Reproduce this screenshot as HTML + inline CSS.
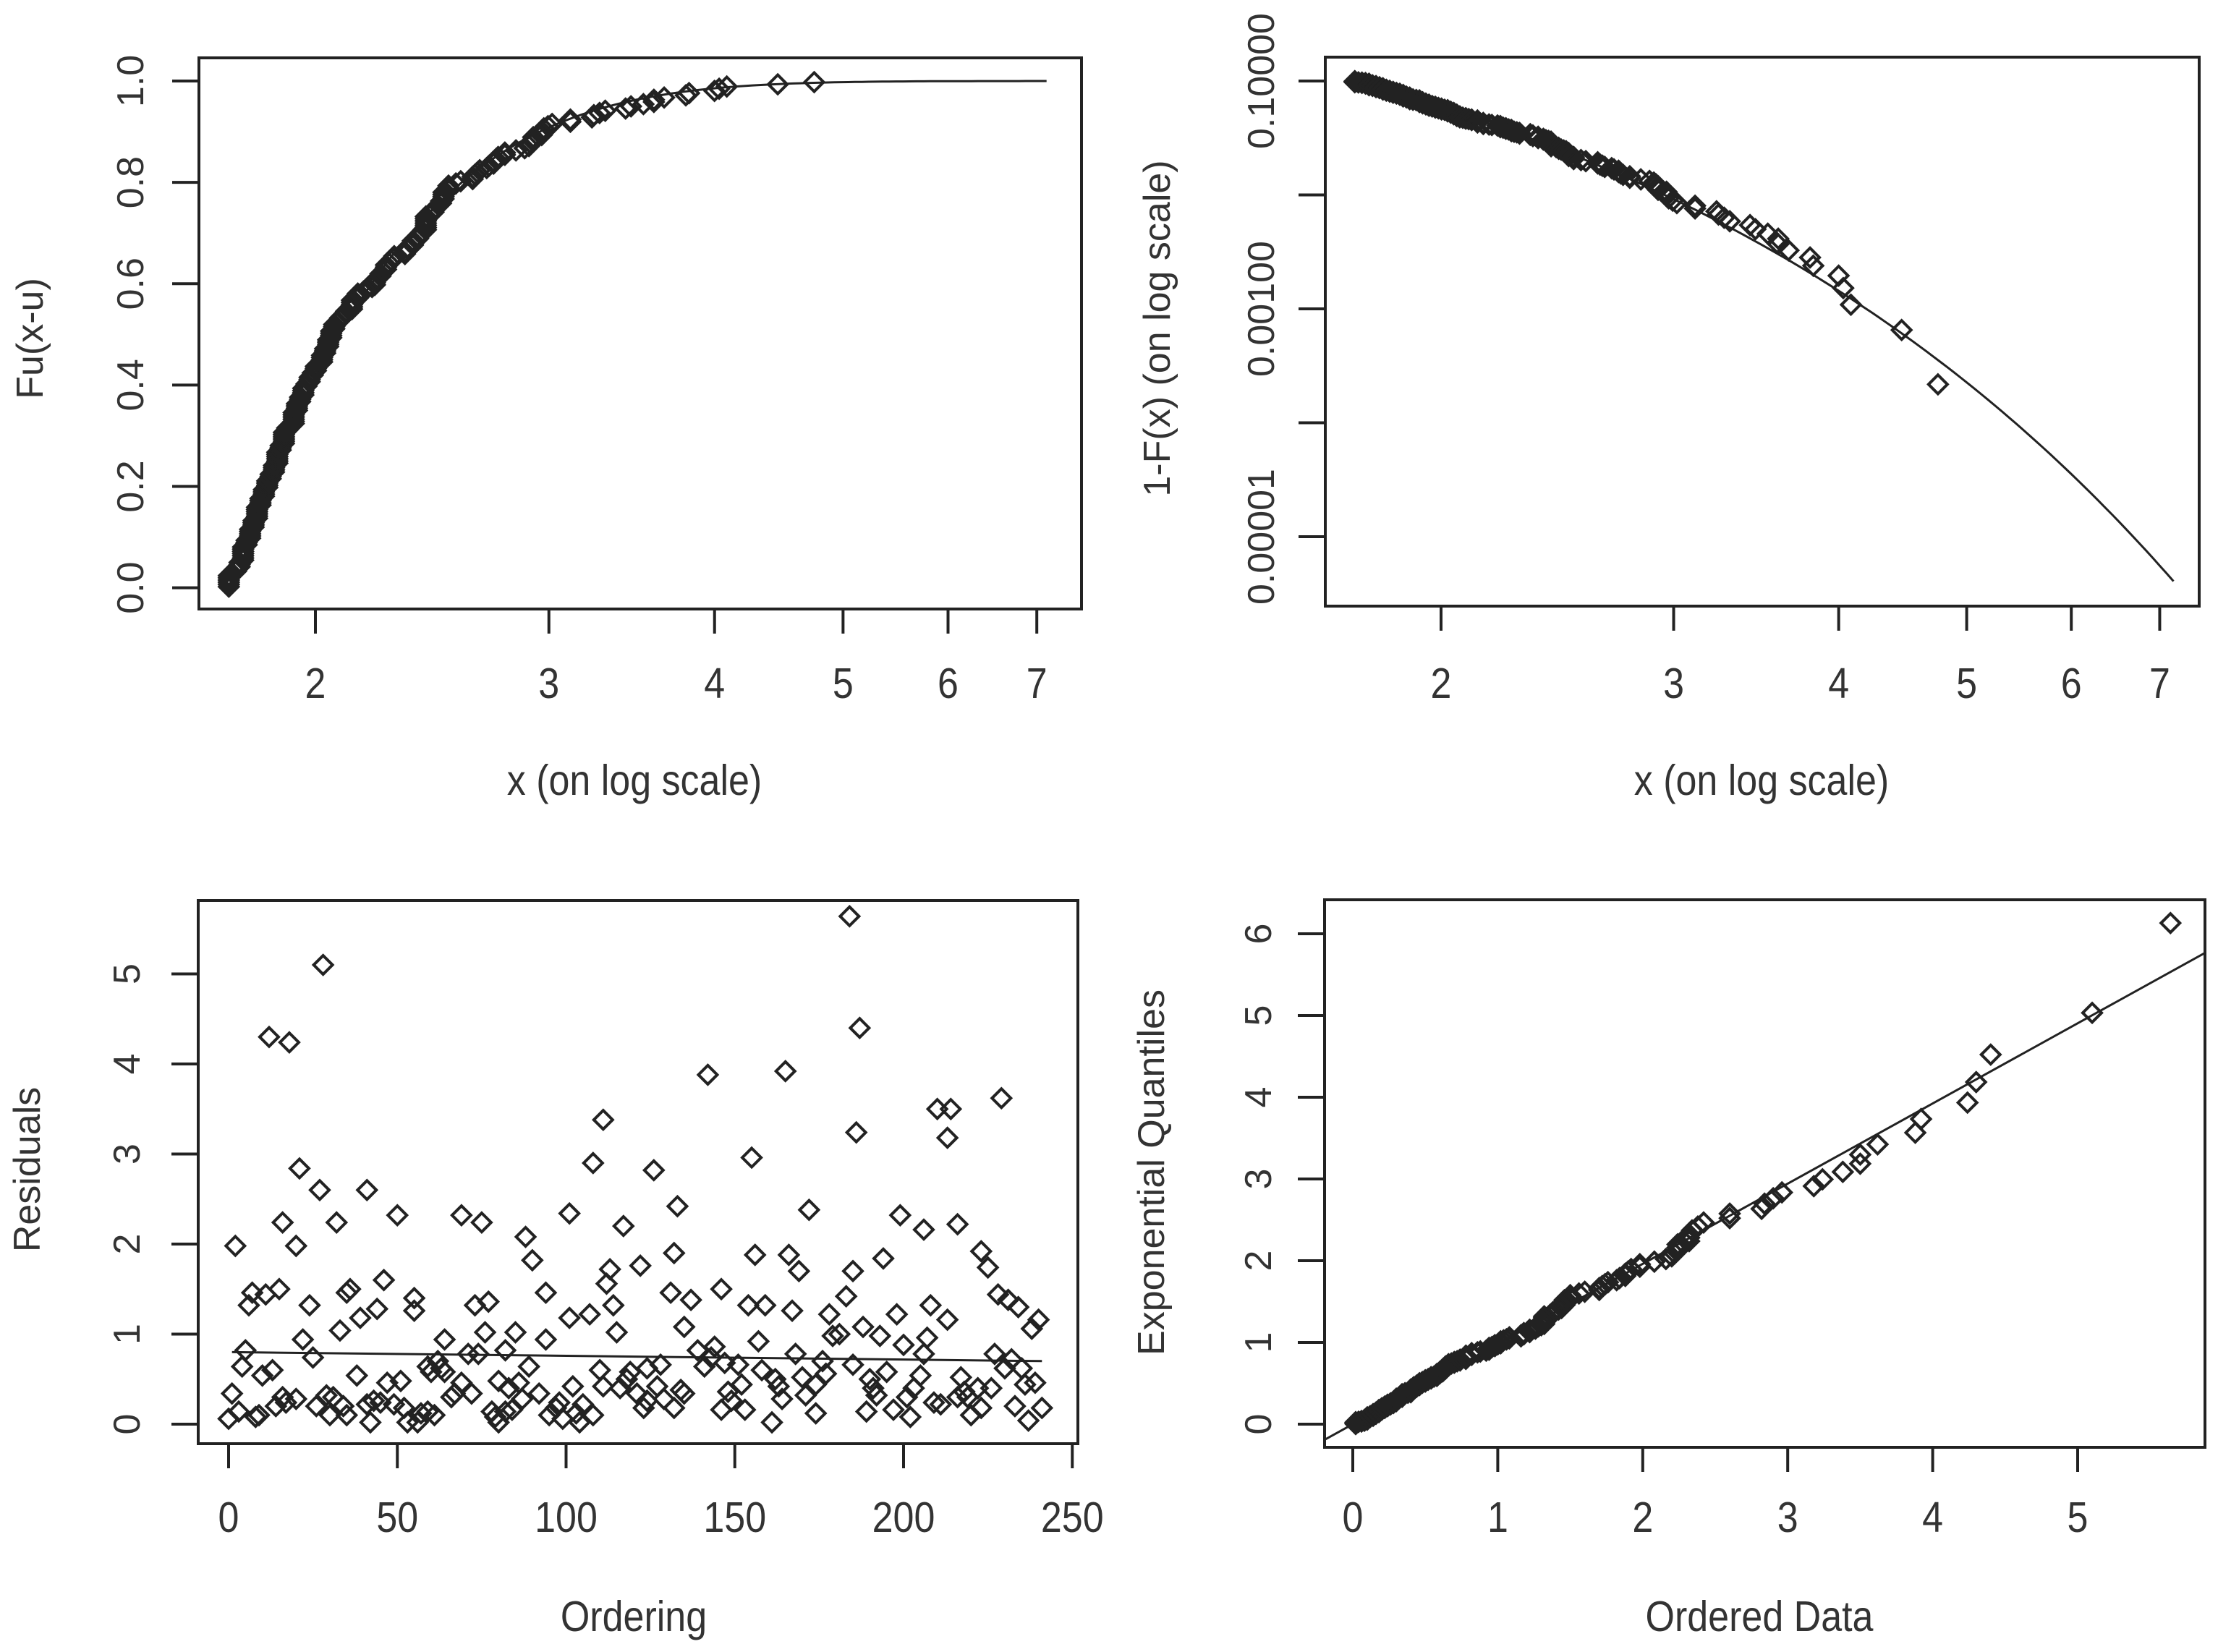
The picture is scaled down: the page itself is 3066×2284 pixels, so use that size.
<!DOCTYPE html>
<html><head><meta charset="utf-8">
<style>
html,body{margin:0;padding:0;background:#fff;}
svg{display:block;}
text{font-family:"Liberation Sans",sans-serif;fill:#333;}
</style></head>
<body>
<svg id="fig" width="3066" height="2284" viewBox="0 0 3066 2284" xmlns="http://www.w3.org/2000/svg">
<rect x="0" y="0" width="3066" height="2284" fill="#fff"/>
<g id="p1"></g>
<g id="p2"></g>
<g id="p3"></g>
<g id="p4"></g>
</svg>
<script>
// ---- data ----
const ordering = [0,3,1,4,5,2,6,7,11,15,9,10,13,14,16,20,16,12,18,20,21,27,24,22,25,28,26,30,31,32,33,35,36,35,38,39,41,42,41,43,44,46,47,49,50,51,52,53,55,55,56,59,59,61,62,64,64,67,69,69,71,72,73,74,75,76,77,78,80,80,82,82,84,85,86,88,89,90,92,94,94,95,97,99,101,101,102,104,105,107,108,110,111,111,112,113,114,115,117,119,121,122,123,124,126,124,128,129,131,132,132,133,135,135,137,139,142,143,144,146,146,147,149,151,152,153,154,155,156,157,158,159,161,162,164,165,166,167,168,169,171,172,174,174,176,178,179,181,183,184,185,185,186,187,188,189,190,192,193,194,195,197,198,199,200,202,203,205,206,206,207,208,209,210,213,213,214,216,216,217,219,220,222,223,223,225,227,228,229,230,231,233,234,235,236,237,238,239,240,241,8,17,29,34,45,57,60,63,66,79,83,87,98,103,116,118,127,134,141,148,163,170,177,191,201,211,218,226,232,108];
const residuals = [0.06,0.14,0.34,0.64,0.82,1.98,1.32,1.46,1.44,1.5,0.1,0.54,0.6,0.2,0.3,0.28,2.24,4.3,4.24,1.98,2.84,2.6,1.32,0.94,0.74,5.1,0.2,0.1,0.3,2.24,1.04,1.46,1.5,0.1,0.54,1.18,2.6,0.02,0.22,0.26,1.28,1.6,0.46,0.22,2.32,0.48,0.18,0.02,1.4,1.26,0.02,0.14,0.64,0.1,0.7,0.94,0.58,0.34,2.32,0.46,0.78,0.34,1.32,0.78,2.24,1.02,1.36,0.14,0.02,0.48,0.14,0.82,0.16,1.02,0.46,2.08,0.64,1.82,0.34,0.94,1.46,0.1,0.18,0.06,1.18,2.34,0.42,0.02,0.22,1.22,2.9,0.6,3.38,0.42,1.56,1.72,1.32,1.02,2.2,0.58,0.34,1.76,0.18,0.62,2.82,0.26,0.66,0.28,1.46,1.9,0.18,2.42,0.34,1.08,1.38,0.82,3.88,0.74,0.86,0.16,1.5,0.68,0.26,0.66,0.44,0.16,1.32,2.96,1.88,0.92,0.6,1.32,0.02,0.5,0.28,3.92,1.88,1.26,0.78,1.7,0.32,2.38,0.12,0.44,0.7,1.22,0.98,1.0,1.42,5.64,0.66,1.7,3.24,4.4,1.08,0.14,0.5,0.32,0.98,1.84,0.58,0.16,1.22,2.32,0.88,0.08,0.4,0.54,0.78,2.16,0.96,1.32,0.24,3.5,1.16,3.18,3.5,0.3,2.22,0.52,0.3,0.1,0.4,1.92,0.18,1.74,0.78,1.44,3.62,0.62,1.38,0.2,1.3,0.62,0.44,0.04,1.06,0.46,1.16,0.18,0.08,0.24,0.32,0.2,0.24,0.12,0.58,0.62,0.3,0.08,0.4,0.28,0.24,0.12,0.4,0.5,0.42,0.38,0.64,0.36,0.42,0.52,0.56,0.4,0.3,0.22,0.36,0.4,0.72,0.1];
const thresholdU = 1.71;      // GPD threshold
const scaleSigma = 0.54;      // GPD scale
const tailProb = 0.1;         // exceedance probability
const residLineX = [1, 241];
const residLineY = [0.8, 0.7];
const qqSlope = [0.981];
const p1XTicks = [2,3,4,5,6,7];
const p1YTicks = [0,0.2,0.4,0.6,0.8,1.0];
const p1YLabels = ["0.0","0.2","0.4","0.6","0.8","1.0"];
const p2YTicks = [0.1,0.01,0.001,0.0001,0.00001];
const p2YLabels = ["0.10000","","0.00100","","0.00001"];
const p3XTicks = [0,50,100,150,200,250];
const p3YTicks = [0,1,2,3,4,5];
const p4XTicks = [0,1,2,3,4,5];
const p4YTicks = [0,1,2,3,4,5,6];

const NS = "http://www.w3.org/2000/svg";
function mk(parent, tag, attrs){const e=document.createElementNS(NS,tag);for(const k in attrs)e.setAttribute(k,attrs[k]);parent.appendChild(e);return e;}

// axis functions
const P1 = {l:275,r:1495,t:80,b:842, x:v=>436+796*Math.log(v/2), y:v=>812.6-700.6*v};
const P2 = {l:1832,r:3040,t:79,b:838, x:v=>1992+793*Math.log(v/2), y:v=>112-157.5*Math.log10(v/0.1)};
const P3 = {l:274,r:1490,t:1245,b:1996, x:v=>316+4.665*v, y:v=>1969-124.5*v};
const P4 = {l:1831,r:3048,t:1244,b:2001, x:v=>1870+200.4*v, y:v=>1969-113*v};

function frame(g, P, name){
  const r = mk(g,'rect',{x:P.l,y:P.t,width:P.r-P.l,height:P.b-P.t,fill:'none',stroke:'#222','stroke-width':4});
  
  
}
function xTicks(g,P,vals,labels,labY,name){
  vals.forEach((v,i)=>{
    const px=P.x(v);
    const t=mk(g,'line',{x1:px,x2:px,y1:P.b,y2:P.b+34,stroke:'#222','stroke-width':4});
    
    
    const tx=mk(g,'text',{x:0,y:0,'text-anchor':'middle','font-size':52,transform:`translate(${px},${labY}) scale(1,1.15)`});
    tx.textContent=labels[i];
    
    
  });
}
function yTicks(g,P,vals,labels,labX,name){
  vals.forEach((v,i)=>{
    const py=P.y(v);
    const t=mk(g,'line',{x1:P.l-37,x2:P.l,y1:py,y2:py,stroke:'#222','stroke-width':4});
    
    
    if(labels[i]!==""){
      const tx=mk(g,'text',{x:0,y:0,'text-anchor':'middle','dominant-baseline':'central','font-size':52,transform:`translate(${labX},${py}) rotate(-90)`});
      tx.textContent=labels[i];
      
      
    }
  });
}
function titles(g,xt,xx,xy,yt,yx,yy,name){
  const a=mk(g,'text',{x:0,y:0,'text-anchor':'middle','font-size':52,transform:`translate(${xx},${xy}) scale(1,1.15)`});
  a.textContent=xt;
  
  
  const b=mk(g,'text',{x:0,y:0,'text-anchor':'middle','dominant-baseline':'central','font-size':52,transform:`translate(${yx},${yy}) rotate(-90)`});
  b.textContent=yt;
  
  
}
function diamond(g,px,py,name){
  const s=13;
  const d=mk(g,'polygon',{points:`${px},${py-s} ${px+s},${py} ${px},${py+s} ${px-s},${py}`,fill:'none',stroke:'#222','stroke-width':4});
  
  
}
function polyline(g,pts,name){
  const p=mk(g,'polyline',{points:pts.map(q=>q[0].toFixed(1)+','+q[1].toFixed(1)).join(' '),fill:'none',stroke:'#222','stroke-width':3});
  
  
}

const n = residuals.length;
const sorted = residuals.slice().sort((a,b)=>a-b);
const origX = sorted.map(r=>thresholdU+scaleSigma*r);

// ---- Panel 1 ----
const g1=document.getElementById('p1');
frame(g1,P1,'cdf');
xTicks(g1,P1,p1XTicks,p1XTicks.map(String),965,'cdf');
yTicks(g1,P1,p1YTicks,p1YLabels,181,'cdf');
titles(g1,'x (on log scale)',877,1099,'Fu(x-u)',42,468,'cdf');
{
  const pts=[];
  for(let k=0;k<=120;k++){const x=thresholdU*Math.pow(7.12/thresholdU,k/120);pts.push([P1.x(x),P1.y(1-Math.exp(-(x-thresholdU)/scaleSigma))]);}
  polyline(g1,pts,'fitted-cdf-line');
  origX.forEach((x,i)=>diamond(g1,P1.x(x),P1.y((i+0.5)/n),'empirical-cdf-point'));
}
// ---- Panel 2 ----
const g2=document.getElementById('p2');
frame(g2,P2,'tail');
xTicks(g2,P2,p1XTicks,p1XTicks.map(String),965,'tail');
yTicks(g2,P2,p2YTicks,p2YLabels,1744,'tail');
titles(g2,'x (on log scale)',2435,1099,'1-F(x) (on log scale)',1600,454,'tail');
{
  const pts=[];
  for(let k=0;k<=120;k++){const x=thresholdU*Math.pow(7.17/thresholdU,k/120);pts.push([P2.x(x),P2.y(tailProb*Math.exp(-(x-thresholdU)/scaleSigma))]);}
  polyline(g2,pts,'fitted-tail-line');
  origX.forEach((x,i)=>diamond(g2,P2.x(x),P2.y(tailProb*(1-(i+0.5)/n)),'empirical-tail-point'));
}
// ---- Panel 3 ----
const g3=document.getElementById('p3');
frame(g3,P3,'residuals');
xTicks(g3,P3,p3XTicks,p3XTicks.map(String),2118,'residuals');
yTicks(g3,P3,p3YTicks,p3YTicks.map(String),176,'residuals');
titles(g3,'Ordering',876,2255,'Residuals',38,1617,'residuals');
ordering.forEach((o,i)=>diamond(g3,P3.x(o),P3.y(residuals[i]),'residual-point'));
polyline(g3,residLineX.map((x,i)=>[P3.x(x),P3.y(residLineY[i])]),'residual-smooth-line');
// ---- Panel 4 ----
const g4=document.getElementById('p4');
frame(g4,P4,'qq');
xTicks(g4,P4,p4XTicks,p4XTicks.map(String),2118,'qq');
yTicks(g4,P4,p4YTicks,p4YTicks.map(String),1740,'qq');
titles(g4,'Ordered Data',2432,2255,'Exponential Quantiles',1592,1621,'qq');
{
  const x0=(P4.l-1870)/200.4, x1=(P4.r-1870)/200.4;
  polyline(g4,[[P4.x(x0),P4.y(qqSlope[0]*x0)],[P4.x(x1),P4.y(qqSlope[0]*x1)]],'qq-reference-line');
  sorted.forEach((d,i)=>diamond(g4,P4.x(d),P4.y(-Math.log(1-(i+0.5)/n)),'qq-point'));
}
</script>
</body></html>
